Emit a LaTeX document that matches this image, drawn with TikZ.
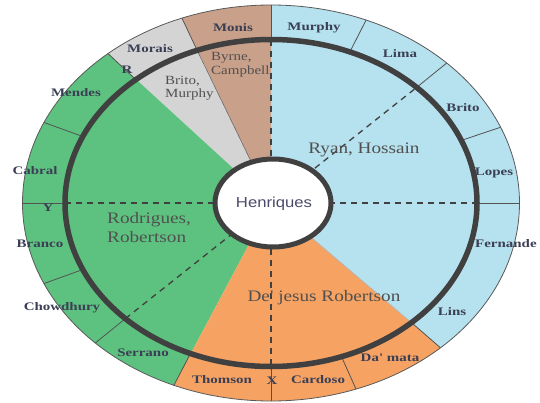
\documentclass[tikz,border=0pt]{standalone}
\usepackage{fontspec}
\setmainfont{Liberation Serif}
\newfontfamily\outf[FakeStretch=1.3]{Liberation Serif}
\newfontfamily\innf[FakeStretch=1.2]{Liberation Serif}
\newfontfamily\henf[FakeStretch=1.15]{Liberation Sans}
\definecolor{cblue}{HTML}{B6E1EE}
\definecolor{cgreen}{HTML}{5DC27F}
\definecolor{cgray}{HTML}{D4D4D4}
\definecolor{cbrown}{HTML}{C9A08A}
\definecolor{corange}{HTML}{F6A262}
\definecolor{cring}{HTML}{404040}
\definecolor{couttxt}{HTML}{3B3F55}
\definecolor{cinntxt}{HTML}{505050}
\definecolor{chentxt}{HTML}{4B4B6B}
\begin{document}
\begin{tikzpicture}[x=1pt,y=1pt,
  outlab/.style={inner sep=0pt, text=couttxt, font=\outf\bfseries\fontsize{11.5}{13}\selectfont},
  innlab/.style={inner sep=0pt, text=cinntxt, align=left, font=\innf\fontsize{16}{19}\selectfont},
  smalllab/.style={inner sep=0pt, text=cinntxt, align=left, font=\innf\fontsize{12.5}{13.5}\selectfont},
  dashline/.style={cring, line width=1.3pt, dash pattern=on 6pt off 5pt},
  divline/.style={cring!90, line width=0.8pt},
  outarc/.style={x radius=248.5pt, y radius=198pt}]
\useasboundingbox (-271,-199) rectangle (269,203);
% sectors
\fill[cblue] (0,0) -- (-47:248.5pt and 198pt) arc[start angle=-47, end angle=90, outarc] -- cycle;
\fill[cbrown] (0,0) -- (90:248.5pt and 198pt) arc[start angle=90, end angle=111, outarc] -- cycle;
\fill[cgray] (0,0) -- (111:248.5pt and 198pt) arc[start angle=111, end angle=131, outarc] -- cycle;
\fill[cgreen] (0,0) -- (131:248.5pt and 198pt) arc[start angle=131, end angle=247, outarc] -- cycle;
\fill[corange] (0,0) -- (247:248.5pt and 198pt) arc[start angle=247, end angle=313, outarc] -- cycle;
% outer border
\draw[gray!70!black, line width=0.8pt] (0,0) ellipse [x radius=248.5pt, y radius=198pt];
% outer ring dividers
\foreach \t in {0,22.5,45,67.5,90,111,131,156,180,204,225,247,270,290,313}
  \draw[divline] (\t:206pt and 163.5pt) -- (\t:248.5pt and 198pt);
% inner sector boundaries
\draw[cring!80, line width=0.6pt] (111:50pt and 40pt) -- (111:206pt and 163.5pt);
\draw[cring!40, line width=0.6pt] (313:50pt and 40pt) -- (313:206pt and 163.5pt);
% dashed axes
\draw[dashline] (180:206pt and 163.5pt) -- (0:206pt and 163.5pt);
\draw[dashline] (90:206pt and 163.5pt) -- (270:206pt and 163.5pt);
\draw[dashline] (225:206pt and 163.5pt) -- (45:206pt and 163.5pt);
% thick ring
\draw[cring, line width=5.5pt] (0,0) ellipse [x radius=206pt, y radius=163.5pt];
% centre
\draw[cring, fill=white, line width=5pt] (2,0) ellipse [x radius=58pt, y radius=44pt];
\node[inner sep=0pt, text=chentxt, font=\henf\fontsize{14.5}{17}\selectfont] (hen) at (3,-1) {Henriques};
% inner labels
\node[innlab] (ryan) at (93,53) {Ryan, Hossain};
\node[innlab, anchor=west] (rodr) at (-164,-24.5) {Rodrigues,\\Robertson};
\node[innlab] (dejs) at (53,-95) {De' jesus Robertson};
\node[smalllab, anchor=west] (byrn) at (-60,138.5) {Byrne,\\Campbell};
\node[smalllab, anchor=west] (brmu) at (-106,115) {Brito,\\Murphy};
% outer labels
\node[outlab] (monis) at (-38,175) {Monis};
\node[outlab] (morais) at (-121,154) {Morais};
\node[outlab] (rr) at (-144,133) {R};
\node[outlab] (mendes) at (-195,110) {Mendes};
\node[outlab] (cabral) at (-236,32) {Cabral};
\node[outlab] (yy) at (-223,-5) {Y};
\node[outlab] (branco) at (-231,-41) {Branco};
\node[outlab] (chow) at (-209,-105) {Chowdhury};
\node[outlab] (serr) at (-128,-150) {Serrano};
\node[outlab] (thom) at (-49,-177) {Thomson};
\node[outlab] (xx) at (1,-178) {X};
\node[outlab] (card) at (47,-177) {Cardoso};
\node[outlab] (dama) at (119,-155) {Da' mata};
\node[outlab] (lins) at (181,-109) {Lins};
\node[outlab, anchor=west] (fern) at (204,-41) {Fernande};
\node[outlab] (lopes) at (223,30) {Lopes};
\node[outlab] (brito) at (192,95) {Brito};
\node[outlab] (lima) at (129,149) {Lima};
\node[outlab] (murphy) at (43,175) {Murphy};
\end{tikzpicture}
\end{document}
